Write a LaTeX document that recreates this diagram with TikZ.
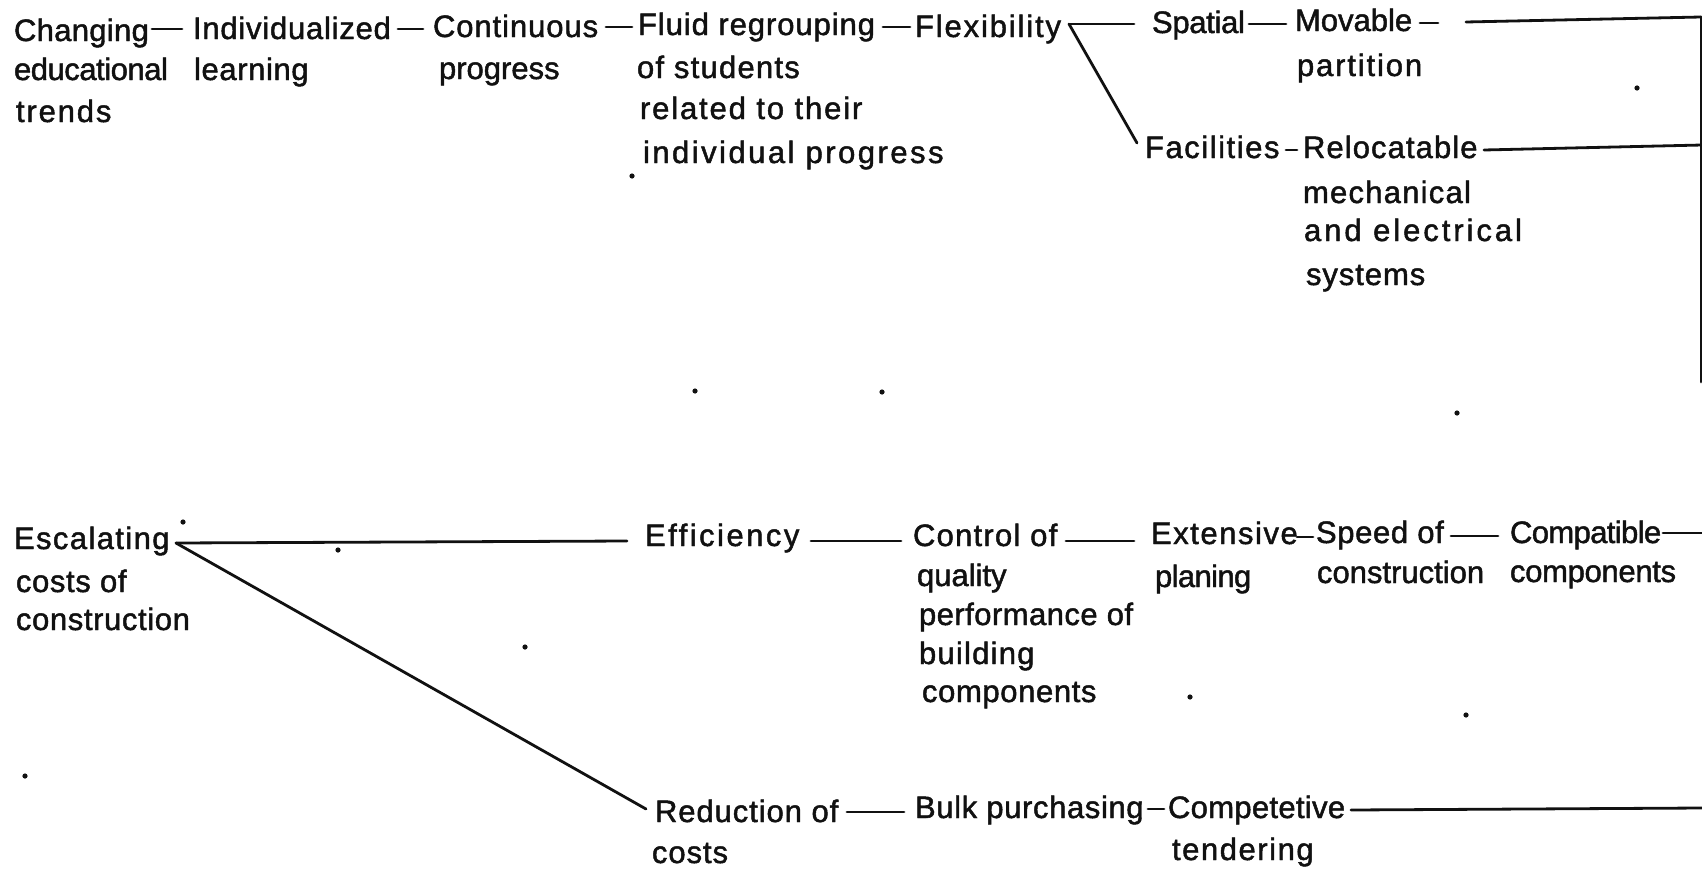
\documentclass[tikz,border=0pt]{standalone}
\usepackage{fontspec}
\setmainfont{Liberation Sans}[FakeBold=1.5]
\usetikzlibrary{calc}
\newcommand\lsp[3]{\hspace*{#2pt}{\addfontfeature{LetterSpace=#1}#3}}
\newcommand\firstl{\rule{0pt}{23pt}}
\tikzset{
  lbl/.style={anchor=north west,inner sep=0pt,outer sep=0pt,align=left,text=ink,
    font=\fontsize{31}{40}\selectfont},
  conn/.style={draw=ink,line width=2.8pt,line cap=round},
  speck/.style={fill=ink,draw=none}
}
\definecolor{ink}{HTML}{111111}
\begin{document}
\begin{tikzpicture}[x=1pt,y=-1pt]
\useasboundingbox (0,0) rectangle (1702,870);
\fill[white] (0,0) rectangle (1702,870);
% row 1
\node[lbl] (chg) at (14,18) {\firstl\lsp{1}{0}{Changing}\\[-1pt]\lsp{-1.5}{0}{educational}\\[2pt]\lsp{6}{2}{trends}};
\node[lbl] (ind) at (193,16) {\firstl\lsp{2.5}{0}{Individualized}\\[1pt]\lsp{2}{1}{learning}};
\node[lbl] (con) at (433,14) {\firstl\lsp{3}{0}{Continuous}\\[2pt]\lsp{0}{6}{progress}};
\node[lbl] (flu) at (637,12) {\firstl\lsp{3}{1}{Fluid regrouping}\\[3pt]\lsp{4}{0}{of students}\\[1pt]\lsp{6}{3}{related to their}\\[4pt]\lsp{8}{6}{individual progress}};
\node[lbl] (fle) at (915,14) {\firstl\lsp{6}{0}{Flexibility}};
\node[lbl] (spa) at (1152,10) {\firstl\lsp{-1}{0}{Spatial}};
\node[lbl] (mov) at (1295,8) {\firstl\lsp{0}{0}{Movable}\\[5pt]\lsp{6}{2}{partition}};
\node[lbl] (fac) at (1145,135) {\firstl\lsp{5}{0}{Facilities}};
\node[lbl] (rel) at (1303,135) {\firstl\lsp{3.5}{0}{Relocatable}\\[5pt]\lsp{4}{0}{mechanical}\\[-2pt]\lsp{9.5}{1}{and electrical}\\[4pt]\lsp{3}{3}{systems}};
% row 2
\node[lbl] (esc) at (14,526) {\firstl\lsp{4.5}{0}{Escalating}\\[3pt]\lsp{2}{2}{costs of}\\[-2pt]\lsp{2}{2}{construction}};
\node[lbl] (eff) at (645,523) {\firstl\lsp{8}{0}{Efficiency}};
\node[lbl] (ctl) at (913,523) {\firstl\lsp{4}{0}{Control of}\\[0pt]\lsp{0}{4}{quality}\\[-1pt]\lsp{1.5}{6}{performance of}\\[-1pt]\lsp{4}{6}{building}\\[-2pt]\lsp{2}{9}{components}};
\node[lbl] (ext) at (1151,521) {\firstl\lsp{5}{0}{Extensive}\\[3pt]\lsp{-2}{4}{planing}};
\node[lbl] (spd) at (1316,520) {\firstl\lsp{2}{0}{Speed of}\\[0pt]\lsp{0}{1}{construction}};
\node[lbl] (cpt) at (1510,520) {\firstl\lsp{-2}{0}{Compatible}\\[-1pt]\lsp{-1}{0}{components}};
\node[lbl] (red) at (652,799) {\firstl\lsp{3}{3}{Reduction of}\\[1pt]\lsp{3}{0}{costs}};
\node[lbl] (blk) at (915,795) {\firstl\lsp{2}{0}{Bulk purchasing}};
\node[lbl] (cmp) at (1168,795) {\firstl\lsp{1}{0}{Competetive}\\[2pt]\lsp{5}{4}{tendering}};
% free ends
\coordinate (rt) at (1701,17);
\coordinate (rb) at (1701,382);
\coordinate (rm) at (1702,145);
\coordinate (m1) at (1438,23);
\coordinate (m2) at (1466,22);
\coordinate (rc) at (1702,533);
\coordinate (rd) at (1702,808);
% connectors
\draw[conn] ([shift={(138,11)}]chg.north west) -- ([shift={(-11,13)}]ind.north west);
\draw[conn] ([shift={(205,13)}]ind.north west) -- ([shift={(-10,15)}]con.north west);
\draw[conn] ([shift={(173,13)}]con.north west) -- ([shift={(-5,15)}]flu.north west);
\draw[conn] ([shift={(246,15)}]flu.north west) -- ([shift={(-5,13)}]fle.north west);
\draw[conn] ([shift={(154,10)}]fle.north west) -- ([shift={(-18,14)}]spa.north west);
\draw[conn] ([shift={(154,10)}]fle.north west) -- ([shift={(-8,8)}]fac.north west);
\draw[conn] ([shift={(97,14)}]spa.north west) -- ([shift={(-9,16)}]mov.north west);
\draw[conn] ([shift={(125,15)}]mov.north west) -- (m1);
\draw[conn] (m2) -- (rt);
\draw[conn] ([shift={(141,15)}]fac.north west) -- ([shift={(-6,15)}]rel.north west);
\draw[conn] ([shift={(181,15)}]rel.north west) -- (rm);
\draw[conn] (rt) -- (rb);
\draw[conn] ([shift={(162,17)}]esc.north west) -- ([shift={(-18,18)}]eff.north west);
\draw[conn] ([shift={(162,17)}]esc.north west) -- ([shift={(-6,10)}]red.north west);
\draw[conn] ([shift={(166,18)}]eff.north west) -- ([shift={(-12,18)}]ctl.north west);
\draw[conn] ([shift={(153,18)}]ctl.north west) -- ([shift={(-17,20)}]ext.north west);
\draw[conn] ([shift={(146,16)}]ext.north west) -- ([shift={(-3,17)}]spd.north west);
\draw[conn] ([shift={(135,16)}]spd.north west) -- ([shift={(-12,16)}]cpt.north west);
\draw[conn] ([shift={(153,13)}]cpt.north west) -- (rc);
\draw[conn] ([shift={(195,13)}]red.north west) -- ([shift={(-11,17)}]blk.north west);
\draw[conn] ([shift={(233,14)}]blk.north west) -- ([shift={(-4,14)}]cmp.north west);
\draw[conn] ([shift={(183,15)}]cmp.north west) -- (rd);
% scan specks
\foreach \p in {(632,176),(695,391),(882,392),(1457,413),(1637,88),(183,522),(338,550),(525,647),(1190,697),(1466,715),(25,776)}
  \fill[speck] \p circle (2.6pt);
\end{tikzpicture}
\end{document}
